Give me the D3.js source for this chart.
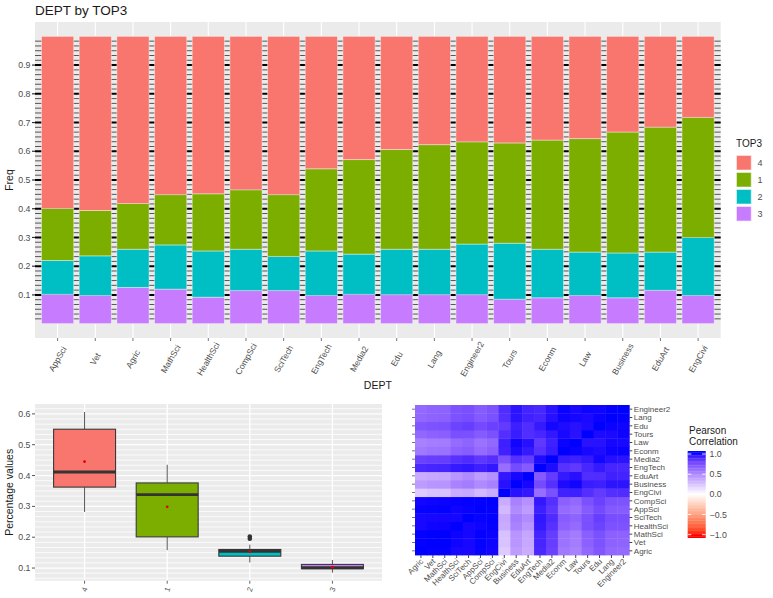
<!DOCTYPE html>
<html><head><meta charset="utf-8">
<script src="https://cdn.jsdelivr.net/npm/d3@7"></script>
<style>html,body{margin:0;padding:0;background:#fff}svg{display:block;font-family:"Liberation Sans",Arial,sans-serif}</style>
</head><body><svg id="c" width="773" height="598"></svg>
<script>
// ---------------- data ----------------
const depts = ["AppSci","Vet","Agric","MathSci","HealthSci","CompSci","SciTech","EngTech","Media2","Edu","Lang","Engineer2","Tours","Econm","Law","Business","EduArt","EngCivi"];
const top3Levels = ["4","1","2","3"];
const share4 = [0.599,0.606,0.582,0.551,0.548,0.534,0.551,0.461,0.429,0.394,0.377,0.367,0.371,0.361,0.356,0.333,0.316,0.282];
const share1 = [0.181,0.158,0.159,0.175,0.199,0.207,0.215,0.286,0.329,0.347,0.364,0.356,0.349,0.380,0.395,0.421,0.435,0.418];
const share2 = [0.118,0.138,0.133,0.154,0.161,0.144,0.119,0.155,0.140,0.158,0.158,0.176,0.195,0.169,0.151,0.156,0.133,0.202];
const share3 = [0.102,0.098,0.126,0.120,0.092,0.115,0.115,0.098,0.102,0.101,0.101,0.101,0.085,0.090,0.098,0.090,0.116,0.098];
const heatOrder = ["Agric","Vet","MathSci","HealthSci","SciTech","AppSci","CompSci","EngCivi","Business","EduArt","EngTech","Media2","Econm","Law","Tours","Edu","Lang","Engineer2"];
const freqTicks = [0.1,0.2,0.3,0.4,0.5,0.6,0.7,0.8,0.9];
const pctTicks = [0.1,0.2,0.3,0.4,0.5,0.6];
const corrTicks = [1,0.5,0,-0.5,-1];
const levelColors = ["#F8766D","#7CAE00","#00BFC4","#C77CFF"];

// ---------------- setup ----------------
const svg = d3.select("#c");
svg.append("rect").attr("width",773).attr("height",598).attr("fill","#fff");
const txt = "#4d4d4d";
const color = d3.scaleOrdinal().domain(top3Levels).range(levelColors);
const seriesByLevel = {"4":share4,"1":share1,"2":share2,"3":share3};

// ================= TOP: stacked bars =================
const P = {x0:35, x1:720.7, y0:22, y1:338};
const x = d3.scalePoint().domain(depts).range([P.x0,P.x1]).padding(0.6);
const y = d3.scaleLinear().domain([-0.05,1.05]).range([P.y1,P.y0]);
const gTop = svg.append("g");
gTop.append("rect").attr("x",P.x0).attr("y",P.y0).attr("width",P.x1-P.x0).attr("height",P.y1-P.y0).attr("fill","#ebebeb");
gTop.selectAll(".vg").data(depts).join("line")
  .attr("x1",d=>x(d)).attr("x2",d=>x(d)).attr("y1",P.y0).attr("y2",P.y1)
  .attr("stroke","#fff").attr("stroke-width",1.1);
const fine = d3.range(1,60);
gTop.selectAll(".hg").data(fine).join("line")
  .attr("x1",P.x0).attr("x2",P.x1).attr("y1",k=>y(k/60)).attr("y2",k=>y(k/60))
  .attr("stroke",k=>k%6===0?"#000":"#555").attr("stroke-width",k=>k%6===0?2:1);

const rows = depts.map((d,i)=>({dept:d,"4":share4[i],"1":share1[i],"2":share2[i],"3":share3[i]}));
const stacked = d3.stack().keys(["3","2","1","4"]).offset(d3.stackOffsetExpand)(rows);
const bw = x.step()*0.855;
gTop.selectAll(".layer").data(stacked).join("g").attr("fill",s=>color(s.key))
  .selectAll("rect").data(s=>s).join("rect")
  .attr("x",d=>x(d.data.dept)-bw/2).attr("width",bw)
  .attr("y",d=>y(d[1])).attr("height",d=>y(d[0])-y(d[1]))
  .attr("stroke","rgba(255,255,255,0.45)").attr("stroke-width",0.9);

// y axis
gTop.selectAll(".yt").data(freqTicks).join("text")
  .attr("x",30.5).attr("y",d=>y(d)).attr("dy","0.35em").attr("text-anchor","end")
  .attr("font-size",8.8).attr("fill",txt).text(d=>d3.format(".1f")(d));
gTop.selectAll(".ytk").data(freqTicks).join("line")
  .attr("x1",32).attr("x2",P.x0).attr("y1",d=>y(d)).attr("y2",d=>y(d))
  .attr("stroke","#333").attr("stroke-width",1.2);
// x axis
gTop.selectAll(".xtk").data(depts).join("line")
  .attr("x1",d=>x(d)).attr("x2",d=>x(d)).attr("y1",P.y1).attr("y2",P.y1+3)
  .attr("stroke","#666").attr("stroke-width",0.9);
gTop.selectAll(".xl").data(depts).join("text")
  .attr("transform",d=>`translate(${x(d)},${359}) rotate(-60)`)
  .attr("text-anchor","middle").attr("dy","0.35em")
  .attr("font-size",8.5).attr("fill",txt).text(d=>d);
svg.append("text").attr("x",35).attr("y",15).attr("font-size",13.5).attr("fill","#1a1a1a").text("DEPT by TOP3");
svg.append("text").attr("x",(P.x0+P.x1)/2).attr("y",389).attr("text-anchor","middle").attr("font-size",10.5).attr("fill","#1a1a1a").text("DEPT");
svg.append("text").attr("transform","translate(13,180) rotate(-90)").attr("text-anchor","middle").attr("font-size",10.5).attr("fill","#1a1a1a").text("Freq");

// legend
const lg = svg.append("g");
lg.append("text").attr("x",736).attr("y",147).attr("font-size",10).attr("fill","#1a1a1a").text("TOP3");
top3Levels.forEach((k,i)=>{
  const yy = 155 + i*17;
  lg.append("rect").attr("x",736).attr("y",yy).attr("width",15.7).attr("height",15.5).attr("fill","#f2f2f2");
  lg.append("rect").attr("x",736.5).attr("y",yy+0.5).attr("width",14.7).attr("height",14.5).attr("fill",color(k)).attr("stroke","rgba(255,255,255,0.5)");
  lg.append("text").attr("x",757.5).attr("y",yy+7.8).attr("dy","0.35em").attr("font-size",9).attr("fill",txt).text(k);
});

// ================= BOTTOM LEFT: boxplot =================
const B = {x0:35, x1:382, y0:404, y1:580.7};
const allVals = [].concat(share4,share1,share2,share3);
const ext = d3.extent(allVals), pad = (ext[1]-ext[0])*0.05;
const yb = d3.scaleLinear().domain([ext[0]-pad, ext[1]+pad]).range([B.y1,B.y0]);
const xb = d3.scalePoint().domain(top3Levels).range([B.x0,B.x1]).padding(0.6);
const bp = svg.append("g");
bp.append("rect").attr("x",B.x0).attr("y",B.y0).attr("width",B.x1-B.x0).attr("height",B.y1-B.y0).attr("fill","#ebebeb");
const fineB = d3.range(Math.ceil(yb.domain()[0]*60), Math.floor(yb.domain()[1]*60)+1);
bp.selectAll(".hg").data(fineB).join("line")
  .attr("x1",B.x0).attr("x2",B.x1).attr("y1",k=>yb(k/60)).attr("y2",k=>yb(k/60))
  .attr("stroke","#fff").attr("stroke-width",k=>k%6===0?1.3:0.8);
bp.selectAll(".vg").data(top3Levels).join("line")
  .attr("x1",d=>xb(d)).attr("x2",d=>xb(d)).attr("y1",B.y0).attr("y2",B.y1)
  .attr("stroke","#fff").attr("stroke-width",1.3);
const boxW = xb.step()*0.75;
top3Levels.forEach(k=>{
  const v = seriesByLevel[k].slice().sort(d3.ascending);
  const q1 = d3.quantileSorted(v,0.25), med = d3.quantileSorted(v,0.5), q3 = d3.quantileSorted(v,0.75);
  const iqr = q3-q1;
  const inside = v.filter(d=>d>=q1-1.5*iqr && d<=q3+1.5*iqr);
  const lo = d3.min(inside), hi = d3.max(inside);
  const outs = v.filter(d=>d<q1-1.5*iqr || d>q3+1.5*iqr);
  const cx = xb(k);
  bp.append("line").attr("x1",cx).attr("x2",cx).attr("y1",yb(hi)).attr("y2",yb(q3)).attr("stroke","#555").attr("stroke-width",1);
  bp.append("line").attr("x1",cx).attr("x2",cx).attr("y1",yb(q1)).attr("y2",yb(lo)).attr("stroke","#555").attr("stroke-width",1);
  bp.append("rect").attr("x",cx-boxW/2).attr("y",yb(q3)).attr("width",boxW).attr("height",yb(q1)-yb(q3))
    .attr("fill",color(k)).attr("stroke","#3a3a3a").attr("stroke-width",1.1);
  bp.append("line").attr("x1",cx-boxW/2).attr("x2",cx+boxW/2).attr("y1",yb(med)).attr("y2",yb(med)).attr("stroke","#333").attr("stroke-width",2.8);
  outs.forEach(o=>bp.append("circle").attr("cx",cx).attr("cy",yb(o)).attr("r",2.3).attr("fill","#333"));
  bp.append("circle").attr("cx",cx).attr("cy",yb(d3.mean(v))).attr("r",1.4).attr("fill","#e00000");
});
bp.selectAll(".yt").data(pctTicks).join("text")
  .attr("x",30.5).attr("y",d=>yb(d)).attr("dy","0.35em").attr("text-anchor","end")
  .attr("font-size",8.8).attr("fill",txt).text(d=>d3.format(".1f")(d));
bp.selectAll(".ytk").data(pctTicks).join("line")
  .attr("x1",32).attr("x2",B.x0).attr("y1",d=>yb(d)).attr("y2",d=>yb(d)).attr("stroke","#555").attr("stroke-width",1);
bp.selectAll(".xtk").data(top3Levels).join("line")
  .attr("x1",d=>xb(d)).attr("x2",d=>xb(d)).attr("y1",B.y1).attr("y2",B.y1+3).attr("stroke","#666");
bp.selectAll(".xl").data(top3Levels).join("text")
  .attr("transform",d=>`translate(${xb(d)},${589.5}) rotate(-70)`)
  .attr("text-anchor","middle").attr("dy","0.35em").attr("font-size",7.5).attr("fill",txt).text(d=>d);
svg.append("text").attr("transform",`translate(13,${(B.y0+B.y1)/2}) rotate(-90)`).attr("text-anchor","middle")
  .attr("font-size",10.5).attr("fill","#1a1a1a").text("Percentage values");

// ================= BOTTOM RIGHT: correlation heatmap =================
const H = {x0:415, x1:629.3, y0:405, y1:555};
const vec = {};
depts.forEach((d,i)=>{ vec[d] = top3Levels.map(k=>seriesByLevel[k][i]); });
function pearson(a,b){
  const ma=d3.mean(a), mb=d3.mean(b);
  let s=0,sa=0,sb=0;
  for(let i=0;i<a.length;i++){ s+=(a[i]-ma)*(b[i]-mb); sa+=(a[i]-ma)**2; sb+=(b[i]-mb)**2; }
  return s/Math.sqrt(sa*sb);
}
const cells = [];
heatOrder.forEach(r=>heatOrder.forEach(c=>cells.push({r,c,v:pearson(vec[r],vec[c])})));
const xh = d3.scaleBand().domain(heatOrder).range([H.x0,H.x1]);
const yh = d3.scaleBand().domain(heatOrder).range([H.y1,H.y0]);
const cscale = d3.scaleLinear().domain([-1,0,1]).range(["#ff0000","#ffffff","#0000ff"]).interpolate(d3.interpolateLab).clamp(true);
const hm = svg.append("g");
hm.selectAll("rect").data(cells).join("rect")
  .attr("x",d=>xh(d.c)).attr("y",d=>yh(d.r)).attr("width",xh.bandwidth()+0.4).attr("height",yh.bandwidth()+0.4)
  .attr("fill",d=>cscale(d.v));
hm.selectAll(".rt").data(heatOrder).join("line")
  .attr("x1",H.x1).attr("x2",H.x1+3).attr("y1",d=>yh(d)+yh.bandwidth()/2).attr("y2",d=>yh(d)+yh.bandwidth()/2).attr("stroke","#444");
hm.selectAll(".lt").data(heatOrder).join("line")
  .attr("x1",H.x0-3).attr("x2",H.x0).attr("y1",d=>yh(d)+yh.bandwidth()/2).attr("y2",d=>yh(d)+yh.bandwidth()/2).attr("stroke","#777");
hm.selectAll(".bt").data(heatOrder).join("line")
  .attr("x1",d=>xh(d)+xh.bandwidth()/2).attr("x2",d=>xh(d)+xh.bandwidth()/2).attr("y1",H.y1).attr("y2",H.y1+3).attr("stroke","#444");
hm.selectAll(".rl").data(heatOrder).join("text")
  .attr("x",H.x1+4.5).attr("y",d=>yh(d)+yh.bandwidth()/2).attr("dy","0.35em")
  .attr("font-size",8).attr("fill",txt).text(d=>d);
hm.selectAll(".bl").data(heatOrder).join("text")
  .attr("transform",d=>`translate(${xh(d)+xh.bandwidth()/2+1},${H.y1+5}) rotate(-45)`)
  .attr("text-anchor","end").attr("dy","0.35em").attr("font-size",8).attr("fill",txt).text(d=>d);

// colour bar legend
const cb = svg.append("g");
cb.append("text").attr("x",689).attr("y",434).attr("font-size",10).attr("fill","#1a1a1a").text("Pearson");
cb.append("text").attr("x",689).attr("y",445).attr("font-size",10).attr("fill","#1a1a1a").text("Correlation");
const yc = d3.scaleLinear().domain([-1,1]).range([534.7,454]);
const cbTop = 451, cbBot = 537.7, nb = 60;
const binH = (cbBot-cbTop)/nb;
cb.selectAll(".bin").data(d3.range(nb)).join("rect")
  .attr("x",687.7).attr("width",18).attr("y",i=>cbTop+i*binH).attr("height",binH+0.3)
  .attr("fill",i=>cscale(yc.invert(cbTop+(i+0.5)*binH)));
cb.selectAll(".tl").data(corrTicks).join("line")
  .attr("x1",687.7).attr("x2",691.3).attr("y1",d=>yc(d)).attr("y2",d=>yc(d)).attr("stroke","#fff").attr("stroke-width",0.9);
cb.selectAll(".tr").data(corrTicks).join("line")
  .attr("x1",702.1).attr("x2",705.7).attr("y1",d=>yc(d)).attr("y2",d=>yc(d)).attr("stroke","#fff").attr("stroke-width",0.9);
cb.selectAll(".lab").data(corrTicks).join("text")
  .attr("x",709.5).attr("y",d=>yc(d)).attr("dy","0.35em").attr("font-size",8.8).attr("fill",txt)
  .text(d=>d3.format(".1f")(d).replace("-","\u2212"));
</script>
</body></html>
